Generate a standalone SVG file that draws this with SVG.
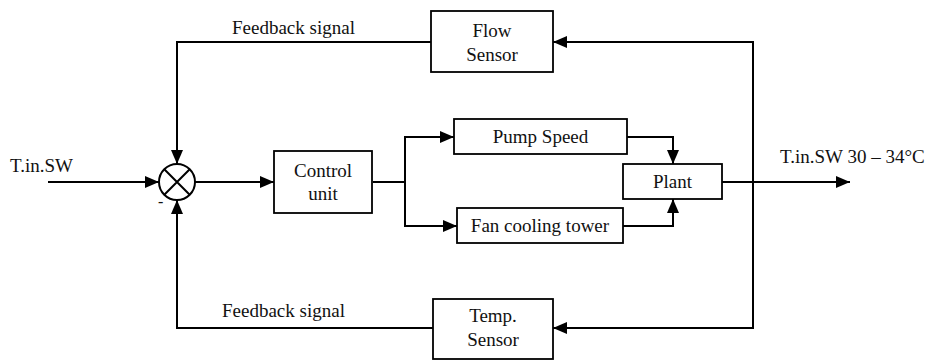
<svg xmlns="http://www.w3.org/2000/svg" width="933" height="360" viewBox="0 0 933 360" font-family="Liberation Serif, Times New Roman, DejaVu Serif, serif" font-size="19">
<defs>
<marker id="arr" markerUnits="userSpaceOnUse" markerWidth="14" markerHeight="12" refX="14" refY="6" orient="auto">
<path d="M0,0 L14,6 L0,12 z" fill="#000"/>
</marker>
<style>
.box{fill:#fff;stroke:#000;stroke-width:1.8}
.ln{fill:none;stroke:#000;stroke-width:2}
.ar{marker-end:url(#arr)}
text{font-family:'Liberation Serif','Times New Roman','DejaVu Serif',serif;font-size:19px;fill:#111}
.c{text-anchor:middle}
</style>
</defs>
<rect width="933" height="360" fill="#fff"/>
<g id="connectors">
<path class="ln ar" d="M48,182 H159"/>
<path class="ln ar" d="M195,182 H274"/>
<path class="ln" d="M373,182 H405"/>
<path class="ln ar" d="M405,182 V137 H454"/>
<path class="ln ar" d="M405,182 V226 H457"/>
<path class="ln ar" d="M627,137 H673 V164"/>
<path class="ln ar" d="M623,226 H673 V199"/>
<path class="ln ar" d="M722,182 H850"/>
<path class="ln ar" d="M753,182 V42 H553"/>
<path class="ln ar" d="M753,182 V328 H553"/>
<path class="ln ar" d="M431,42 H177 V164"/>
<path class="ln ar" d="M433,328 H177 V200"/>
<text x="232" y="34">Feedback signal</text>
<text x="222" y="317">Feedback signal</text>
<text x="10" y="172">T.in.SW</text>
<text x="780" y="163">T.in.SW 30 – 34°C</text>
<text x="158" y="207" style="font-size:16px">-</text>
</g>
<g id="sum">
<circle cx="177" cy="182" r="18" fill="#fff" stroke="#000" stroke-width="2"/>
<path class="ln" d="M164.3,169.3 L189.7,194.7 M189.7,169.3 L164.3,194.7"/>
</g>
<g id="flow-sensor">
<rect class="box" x="431" y="11" width="122" height="61"/>
<text class="c" x="492" y="37">Flow</text>
<text class="c" x="492" y="61">Sensor</text>
</g>
<g id="temp-sensor">
<rect class="box" x="433" y="299" width="120" height="60"/>
<text class="c" x="493" y="322">Temp.</text>
<text class="c" x="493" y="346">Sensor</text>
</g>
<g id="control-unit">
<rect class="box" x="274" y="151" width="98" height="62"/>
<text class="c" x="323" y="177">Control</text>
<text class="c" x="323" y="200">unit</text>
</g>
<g id="pump-speed">
<rect class="box" x="454" y="119" width="173" height="35"/>
<text class="c" x="540.5" y="143">Pump Speed</text>
</g>
<g id="fan-cooling-tower">
<rect class="box" x="457" y="208" width="166" height="35"/>
<text class="c" x="540" y="232">Fan cooling tower</text>
</g>
<g id="plant">
<rect class="box" x="623" y="164" width="99" height="35"/>
<text class="c" x="672.5" y="188">Plant</text>
</g>
</svg>
